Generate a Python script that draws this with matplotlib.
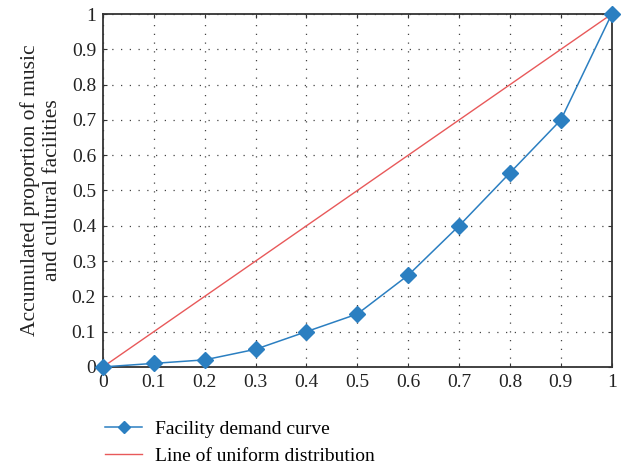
import matplotlib
matplotlib.use("Agg")
import matplotlib.pyplot as plt

plt.rcParams['font.family'] = ['Liberation Serif', 'DejaVu Serif']

# Data
x_share = [0, 0.1, 0.2, 0.3, 0.4, 0.5, 0.6, 0.7, 0.8, 0.9, 1.0]
demand = [0, 0.01, 0.02, 0.05, 0.10, 0.15, 0.26, 0.40, 0.55, 0.70, 1.0]
uniform_x = [0, 1]
uniform_y = [0, 1]
ticks = [0, 0.1, 0.2, 0.3, 0.4, 0.5, 0.6, 0.7, 0.8, 0.9, 1]
tick_labels = ["0", "0.1", "0.2", "0.3", "0.4", "0.5", "0.6", "0.7", "0.8", "0.9", "1"]

fig = plt.figure(figsize=(6.3, 4.68), dpi=100)
ax = fig.add_axes([0.1635, 0.216, 0.8075, 0.754])

ax.plot(x_share, demand, color='#2b7fc1', linewidth=1.1, marker='D',
        markersize=8, label='Facility demand curve', zorder=3, clip_on=False)
ax.plot(uniform_x, uniform_y, color='#e8595a', linewidth=1.0,
        label='Line of uniform distribution', zorder=2)

ax.set_xlim(0, 1)
ax.set_ylim(0, 1)
ax.set_xticks(ticks)
ax.set_xticklabels(tick_labels)
ax.set_yticks(ticks)
ax.set_yticklabels(tick_labels)
ax.tick_params(direction='in', labelsize=14, color='#333333', length=3,
               top=True, right=True, pad=5, labelcolor='#222222')
ax.grid(True, linestyle=(0, (1, 6)), color='#444444', linewidth=0.9)
for s in ax.spines.values():
    s.set_color('#333333')
    s.set_linewidth(1.3)

ax.set_ylabel("Accumulated proportion of music\nand cultural facilities", fontsize=15.5,
              color='#222222', linespacing=1.2, labelpad=7)

fig.legend(loc='upper left', bbox_to_anchor=(0.139, 0.139), frameon=False,
           fontsize=14, handlelength=1.9, handletextpad=0.67, labelspacing=0.46,
           markerscale=0.75)

fig.savefig("out.png", dpi=100)
